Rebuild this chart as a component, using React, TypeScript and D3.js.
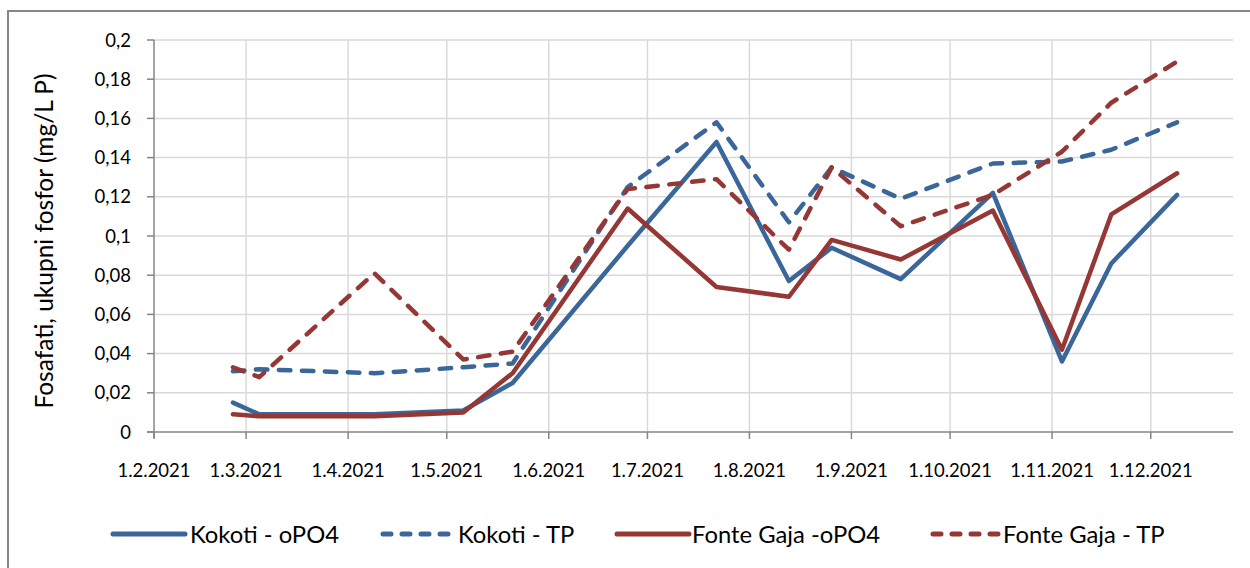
import React from "react";
import * as d3 from "d3";

const sampleDates = ["2021-02-25","2021-03-05","2021-04-09","2021-05-06","2021-05-21","2021-06-25","2021-07-22","2021-08-13","2021-08-26","2021-09-16","2021-10-14","2021-11-04","2021-11-19","2021-12-09"];
const kokotiOPO4 = [0.015, 0.009, 0.009, 0.011, 0.025, 0.095, 0.148, 0.077, 0.094, 0.078, 0.122, 0.036, 0.086, 0.121];
const kokotiTP = [0.031, 0.032, 0.030, 0.033, 0.035, 0.125, 0.158, 0.107, 0.135, 0.119, 0.137, 0.138, 0.144, 0.158];
const fonteOPO4 = [0.009, 0.008, 0.008, 0.010, 0.030, 0.114, 0.074, 0.069, 0.098, 0.088, 0.113, 0.042, 0.111, 0.132];
const fonteTP = [0.033, 0.028, 0.081, 0.037, 0.041, 0.124, 0.129, 0.093, 0.135, 0.105, 0.121, 0.143, 0.168, 0.189];

const xTickDates = ["2021-02-01","2021-03-01","2021-04-01","2021-05-01","2021-06-01","2021-07-01","2021-08-01","2021-09-01","2021-10-01","2021-11-01","2021-12-01"];
const yTicks = [0, 0.02, 0.04, 0.06, 0.08, 0.1, 0.12, 0.14, 0.16, 0.18, 0.2];
const seriesNames = ["Kokoti - oPO4", "Kokoti - TP", "Fonte Gaja -oPO4", "Fonte Gaja - TP"];
const yTitle = "Fosafati, ukupni fosfor (mg/L P)";

const BLUE = "#3B6699";
const RED = "#953735";
const FONT = "Lato, 'Open Sans', sans-serif";

const parse = (s: string) => {
  const [y, m, d] = s.split("-").map(Number);
  return new Date(y, m - 1, d);
};

export default function App() {
  const W = 1250, H = 568;
  const x = d3.scaleTime().domain([parse("2021-02-01"), parse("2021-12-26")]).range([154, 1233]);
  const y = d3.scaleLinear().domain([0, 0.2]).range([432, 40]);

  const dates = sampleDates.map(parse);
  const series = [
    { name: seriesNames[0], values: kokotiOPO4, color: BLUE, dash: null as string | null },
    { name: seriesNames[1], values: kokotiTP, color: BLUE, dash: "11.5,11.5" },
    { name: seriesNames[2], values: fonteOPO4, color: RED, dash: null },
    { name: seriesNames[3], values: fonteTP, color: RED, dash: "11.5,11.5" },
  ];
  const line = d3.line<[Date, number]>().x(d => x(d[0])).y(d => y(d[1]));
  const fmtY = (v: number) => (v === 0 ? "0" : String(+v.toFixed(2)).replace(".", ","));
  const fmtX = (d: Date) => `${d.getDate()}.${d.getMonth() + 1}.${d.getFullYear()}`;
  const [x0, x1] = x.range();
  const [yb, yt] = y.range();

  const legendPos = [
    { lx: 113, tx: 190 },
    { lx: 383, tx: 458 },
    { lx: 617, tx: 692 },
    { lx: 933, tx: 1003 },
  ];

  return (
    <svg width={W} height={H} style={{ position: "absolute", left: 0, top: 0, background: "#fff" }} fontFamily={FONT}>
      <rect x={0} y={0} width={W} height={H} fill="#fff" />
      <rect x={8} y={11} width={W + 20} height={H + 20} fill="#fff" stroke="#868686" strokeWidth={2} />
      {yTicks.filter(t => t > 0).map(t => (
        <line key={"hg" + t} x1={x0} x2={x1} y1={y(t)} y2={y(t)} stroke="#D9D9D9" strokeWidth={1.5} />
      ))}
      {xTickDates.map(parse).filter(d => x(d) > x0 + 1).map(d => (
        <line key={"vg" + d.getTime()} x1={x(d)} x2={x(d)} y1={yt} y2={yb} stroke="#D9D9D9" strokeWidth={1.5} />
      ))}
      <line x1={x0} x2={x0} y1={yt} y2={yb + 6} stroke="#868686" strokeWidth={1.5} />
      <line x1={x0 - 7} x2={x1} y1={yb} y2={yb} stroke="#868686" strokeWidth={1.5} />
      {yTicks.map(t => (
        <g key={"yt" + t}>
          <line x1={x0 - 7} x2={x0} y1={y(t)} y2={y(t)} stroke="#868686" strokeWidth={1.5} />
          <text x={131} y={y(t)} dy="0.36em" textAnchor="end" fontSize={18.5} fill="#000">{fmtY(t)}</text>
        </g>
      ))}
      {xTickDates.map(parse).map(d => (
        <g key={"xt" + d.getTime()}>
          <line x1={x(d)} x2={x(d)} y1={yb} y2={yb + 7} stroke="#868686" strokeWidth={1.5} />
          <text x={x(d)} y={477} textAnchor="middle" fontSize={18.5} fill="#000">{fmtX(d)}</text>
        </g>
      ))}
      <text transform={`translate(53,241) rotate(-90)`} textAnchor="middle" fontSize={24.5} fill="#000">{yTitle}</text>
      {series.map(s => (
        <path key={s.name}
          d={line(dates.map((d, i) => [d, s.values[i]] as [Date, number])) || ""}
          fill="none" stroke={s.color} strokeWidth={4.5}
          strokeLinejoin="round" strokeLinecap="round"
          strokeDasharray={s.dash || undefined} />
      ))}
      {series.map((s, i) => (
        <g key={"lg" + s.name}>
          <line x1={legendPos[i].lx} x2={legendPos[i].lx + 72} y1={534} y2={534}
            stroke={s.color} strokeWidth={5} strokeLinecap="round"
            strokeDasharray={s.dash ? "8,11" : undefined} />
          <text x={legendPos[i].tx} y={534} dy="0.36em" fontSize={23.8} fill="#000">{s.name}</text>
        </g>
      ))}
    </svg>
  );
}
